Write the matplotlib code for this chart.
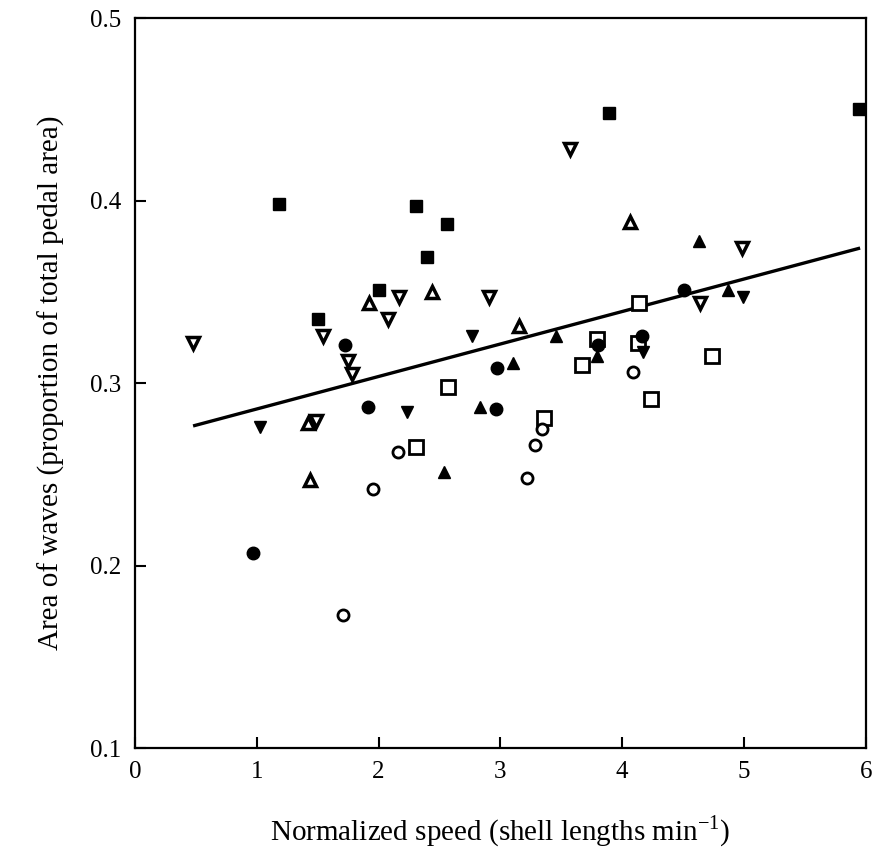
import numpy as np
import matplotlib
matplotlib.use('Agg')
import matplotlib.pyplot as plt

plt.rcParams['font.family'] = ['Liberation Serif', 'DejaVu Serif']
plt.rcParams['mathtext.fontset'] = 'custom'
plt.rcParams['mathtext.rm'] = 'Liberation Serif'

# Filled squares
sq_f_x = [1.18, 2.31, 2.56, 2.40, 2.00, 1.50, 3.89, 5.94]
sq_f_y = [0.398, 0.397, 0.387, 0.369, 0.351, 0.335, 0.448, 0.450]

# Open squares
sq_o_x = [2.57, 2.31, 4.14, 3.79, 3.67, 4.13, 4.74, 4.24, 3.36]
sq_o_y = [0.298, 0.265, 0.344, 0.324, 0.310, 0.322, 0.315, 0.291, 0.281]

# Open down triangles
tdn_o_x = [0.48, 1.54, 2.17, 2.08, 2.91, 1.75, 1.78, 3.57, 4.98, 4.64, 1.49]
tdn_o_y = [0.322, 0.326, 0.347, 0.335, 0.347, 0.312, 0.305, 0.428, 0.374, 0.344, 0.279]

# Open up triangles
tup_o_x = [1.92, 2.44, 4.06, 3.15, 1.44, 1.42]
tup_o_y = [0.344, 0.350, 0.388, 0.331, 0.247, 0.278]

# Filled down triangles
tdn_f_x = [2.77, 1.03, 2.23, 4.99, 4.17]
tdn_f_y = [0.326, 0.276, 0.284, 0.347, 0.317]

# Filled up triangles
tup_f_x = [4.63, 4.87, 3.46, 3.10, 3.79, 2.83, 2.54]
tup_f_y = [0.378, 0.351, 0.326, 0.311, 0.315, 0.287, 0.251]

# Filled circles
ci_f_x = [1.72, 1.91, 0.97, 2.96, 2.97, 3.80, 4.16, 4.51]
ci_f_y = [0.321, 0.287, 0.207, 0.286, 0.308, 0.321, 0.326, 0.351]

# Open circles
ci_o_x = [2.16, 1.95, 1.71, 3.34, 3.28, 3.22, 4.09]
ci_o_y = [0.262, 0.242, 0.173, 0.275, 0.266, 0.248, 0.306]

# Regression line
fit_intercept = 0.268
fit_slope = 0.0178
fit_range = [0.49, 5.94]

fig = plt.figure(figsize=(8.79, 8.68), dpi=100)
ax = fig.add_axes([0.1536, 0.1382, 0.8314, 0.8410])

xs = np.array(fit_range)
ax.plot(xs, fit_intercept + fit_slope * xs, color='black', lw=2.4, zorder=1)

ms = 9
mew = 2.0
ax.plot(sq_f_x, sq_f_y, 's', ms=ms, color='black', mec='black', ls='none')
ax.plot(sq_o_x, sq_o_y, 's', ms=ms + 0.5, mfc='white', mec='black', mew=mew, ls='none')
ax.plot(tdn_o_x, tdn_o_y, 'v', ms=ms, mfc='white', mec='black', mew=mew + 0.5, ls='none')
ax.plot(tup_o_x, tup_o_y, '^', ms=ms, mfc='white', mec='black', mew=mew + 0.5, ls='none')
ax.plot(tdn_f_x, tdn_f_y, 'v', ms=ms, color='black', ls='none')
ax.plot(tup_f_x, tup_f_y, '^', ms=ms, color='black', ls='none')
ax.plot(ci_f_x, ci_f_y, 'o', ms=ms, color='black', ls='none')
ax.plot(ci_o_x, ci_o_y, 'o', ms=ms - 1, mfc='white', mec='black', mew=mew, ls='none')

ax.set_xlim(0, 6)
ax.set_ylim(0.1, 0.5)
ax.set_xticks([0, 1, 2, 3, 4, 5, 6])
ax.set_yticks([0.1, 0.2, 0.3, 0.4, 0.5])
ax.set_yticklabels(['0.1', '0.2', '0.3', '0.4', '0.5'])
ax.tick_params(direction='in', length=8, width=1.5, labelsize=18)
ax.tick_params(axis='x', pad=9)
ax.tick_params(axis='y', pad=10)
for s in ax.spines.values():
    s.set_linewidth(1.6)

ax.set_xlabel('Normalized speed (shell lengths min$^{-1}$)', fontsize=21, labelpad=22)
ax.set_ylabel('Area of waves (proportion of total pedal area)', fontsize=21, labelpad=18)

fig.savefig('out.png', dpi=100)
